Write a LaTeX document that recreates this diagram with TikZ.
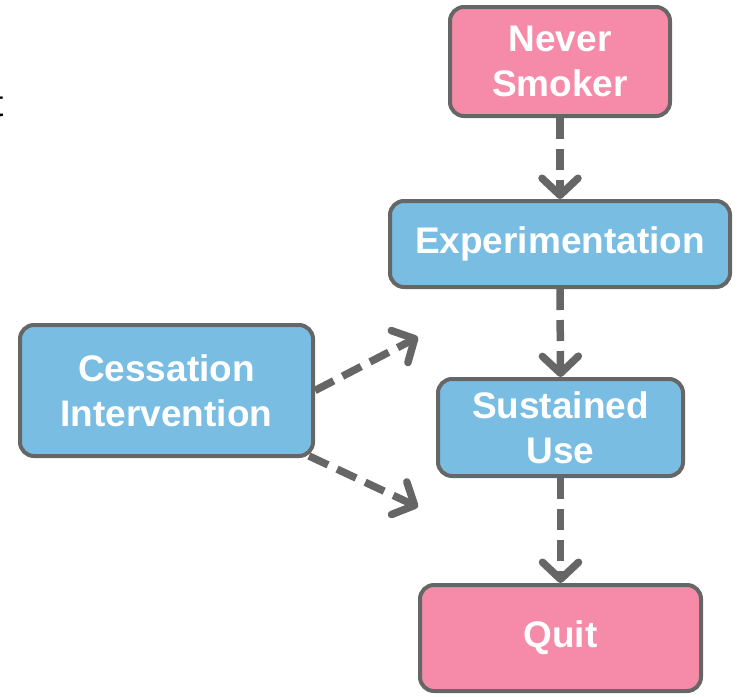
\documentclass[tikz,border=0pt]{standalone}
\usepackage{fontspec}
\setmainfont{Liberation Sans}
\usetikzlibrary{arrows.meta,backgrounds,calc}
\definecolor{boxpink}{HTML}{F68BA9}
\definecolor{boxblue}{HTML}{79BDE3}
\definecolor{edgegray}{HTML}{666666}
\tikzset{
  stagebox/.style={draw=edgegray, line width=4pt, rounded corners=14pt,
    text=white, font=\fontsize{37}{45}\selectfont\bfseries, align=center,
    inner sep=0pt},
  pinkbox/.style={stagebox, fill=boxpink},
  bluebox/.style={stagebox, fill=boxblue},
  flowarrow/.style={draw=edgegray, line width=7.5pt, dash pattern=on 21pt off 10pt,
    -{Straight Barb[length=17pt,width=36pt,round]}},
}
\begin{document}
\begin{tikzpicture}[x=1pt,y=-1pt]
\useasboundingbox (0,0) rectangle (738,696);
\node[anchor=base west, inner sep=0pt, font=\fontsize{37}{44}\selectfont] (frag) at (-7,116) {t};
\node[pinkbox, minimum width=220pt, minimum height=109pt] (never) at (560,61.5) {Never\\Smoker};
\node[bluebox, minimum width=340pt, minimum height=86pt] (exper) at (560,244) {Experimentation};
\node[bluebox, minimum width=245pt, minimum height=97pt] (sust) at (560.5,427.5) {Sustained\\Use};
\node[pinkbox, minimum width=281pt, minimum height=106pt] (quit) at (560.5,638) {Quit};
\node[bluebox, minimum width=293pt, minimum height=131pt] (ces) at (166.5,390.5) {Cessation\\Intervention};
\coordinate (upend) at (418,337);
\coordinate (downend) at (418,507);
\begin{scope}[on background layer]
\draw[flowarrow] (never.south) -- (exper.north);
\draw[flowarrow] (exper.south) -- (sust.north);
\draw[flowarrow] (sust.south) -- (quit.north);
\draw[flowarrow] (ces.east) -- (upend);
\draw[flowarrow] ($(ces.south east)+(-6,-2)$) -- (downend);
\end{scope}
\end{tikzpicture}
\end{document}
